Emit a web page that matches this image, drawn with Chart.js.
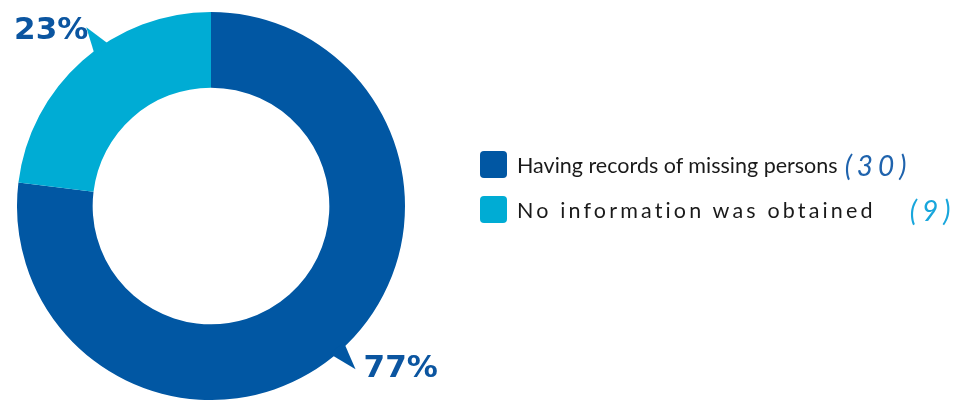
<!DOCTYPE html>
<html>
<head>
<meta charset="utf-8">
<script src="https://cdn.jsdelivr.net/npm/chart.js@4/dist/chart.umd.min.js"></script>
<style>
  html, body { margin: 0; padding: 0; background: #fff; overflow: hidden; }
  #wrap { position: relative; width: 963px; height: 400px; }
  #legend { position: absolute; left: 480px; top: 151px; font-family: Lato, "Liberation Sans", sans-serif; }
  .row { display: flex; align-items: center; height: 27px; margin-bottom: 18px; white-space: nowrap; }
  .box { width: 27px; height: 27px; border-radius: 4px; flex: none; }
  .txt { margin-left: 10px; font-size: 21.5px; color: #1a1a1a; }
  .cnt { font-size: 28px; font-style: italic; letter-spacing: 5px; }
</style>
</head>
<body>
<div id="wrap">
  <canvas id="pieChart"></canvas>
  <div id="legend"></div>
</div>
<script>
  const categories = ["Having records of missing persons", "No information was obtained"];
  const counts = [30, 9];
  const colors = ["#0157a3", "#00acd4"];
  const countColors = ["#1f63ad", "#18a6dc"];

  const total = counts.reduce((a, b) => a + b, 0);
  const percents = counts.map(v => Math.round(v / total * 100));

  // legend rows built from the same arrays
  const legend = document.getElementById("legend");
  const spacing = ["0px", "3.15px"];
  const gaps = ["7px", "34px"];
  categories.forEach((name, i) => {
    const row = document.createElement("div");
    row.className = "row";
    row.innerHTML =
      `<span class="box" style="background:${colors[i]}"></span>` +
      `<span class="txt" style="letter-spacing:${spacing[i]}">${name}</span>` +
      `<span class="cnt" style="color:${countColors[i]};margin-left:${gaps[i]}">(${counts[i]})</span>`;
    legend.appendChild(row);
  });

  // speech-bubble tails with the percent next to them
  const calloutPlugin = {
    id: "callouts",
    afterDatasetsDraw(chart, args, opts) {
      const c = chart.ctx;
      const arcs = chart.getDatasetMeta(0).data;
      arcs.forEach((arc, i) => {
        const p = arc.getProps(["x", "y", "startAngle", "endAngle", "outerRadius"], true);
        const a = p.startAngle + (p.endAngle - p.startAngle) * opts.tipAt[i];
        const half = 0.048;
        const rb = p.outerRadius - 4;
        const rt = p.outerRadius + 24;
        const tip = { x: p.x + Math.cos(a) * rt, y: p.y + Math.sin(a) * rt };
        c.save();
        c.fillStyle = colors[i];
        c.beginPath();
        c.moveTo(p.x + Math.cos(a - half) * rb, p.y + Math.sin(a - half) * rb);
        c.lineTo(tip.x, tip.y);
        c.lineTo(p.x + Math.cos(a + half) * rb, p.y + Math.sin(a + half) * rb);
        c.closePath();
        c.fill();

        c.font = "bold 31px 'DejaVu Sans'";
        c.fillStyle = "#0b55a0";
        c.textBaseline = "middle";
        if (Math.cos(a) < 0) {
          c.textAlign = "right";
          c.fillText(percents[i] + "%", tip.x + 2, tip.y + 4);
        } else {
          c.textAlign = "left";
          c.fillText(percents[i] + "%", tip.x + 8, tip.y);
        }
        c.restore();
      });
    }
  };

  new Chart(document.getElementById("pieChart"), {
    type: "doughnut",
    data: {
      labels: categories,
      datasets: [{
        data: counts,
        backgroundColor: colors,
        borderWidth: 0,
        hoverBorderWidth: 0,
        hoverOffset: 0,
        offset: 0
      }]
    },
    options: {
      responsive: true,
      maintainAspectRatio: false,
      animation: false,
      cutout: "61%",
      layout: { padding: { left: 16, right: 557, top: 12, bottom: 0 } },
      events: [],
      plugins: {
        legend: { display: false },
        tooltip: { enabled: false },
        callouts: { tipAt: [0.5, 0.58] }
      }
    },
    plugins: [calloutPlugin]
  });
</script>
</body>
</html>
